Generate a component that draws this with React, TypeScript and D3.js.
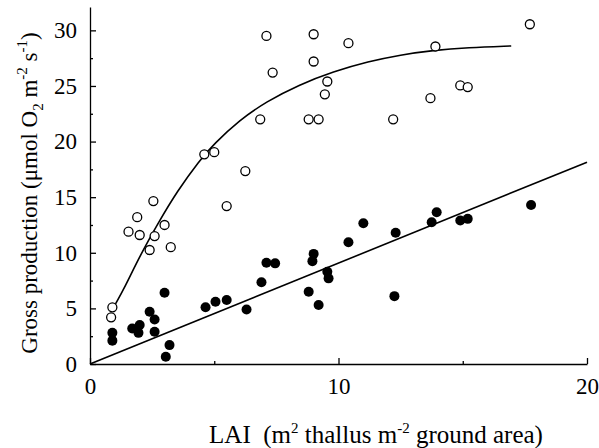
import React, { useEffect, useRef } from "react";
import * as d3 from "d3";

// open circles: gross production per unit ground area
const openX = [0.9, 0.85, 1.55, 2.0, 1.9, 2.55, 2.4, 2.6, 3.0, 3.25, 4.6, 5.0, 5.5, 6.25, 6.85, 7.1, 7.35, 9.0, 9.0, 9.55, 9.45, 8.8, 9.2, 10.4, 12.2, 13.9, 13.7, 14.9, 15.2, 17.7];
const openY = [5.1, 4.2, 11.9, 11.6, 13.2, 14.65, 10.25, 11.5, 12.5, 10.5, 18.85, 19.05, 14.2, 17.35, 22.0, 29.5, 26.2, 29.65, 27.2, 25.4, 24.25, 22.0, 22.0, 28.85, 22.0, 28.55, 23.9, 25.05, 24.9, 30.55];

// filled circles
const fillX = [0.9, 0.9, 1.7, 1.95, 2.0, 2.4, 2.6, 2.6, 3.0, 3.2, 3.05, 4.65, 5.05, 5.5, 6.3, 6.9, 7.1, 7.45, 9.0, 8.95, 8.8, 9.2, 9.55, 9.6, 10.4, 11.0, 12.3, 12.25, 13.75, 13.95, 14.9, 15.2, 17.75];
const fillY = [2.8, 2.1, 3.2, 2.8, 3.5, 4.7, 4.0, 2.9, 6.4, 1.7, 0.65, 5.1, 5.6, 5.75, 4.9, 7.35, 9.1, 9.05, 9.9, 9.25, 6.5, 5.3, 8.3, 7.7, 10.95, 12.65, 11.8, 6.1, 12.75, 13.65, 12.9, 13.05, 14.3];

// saturating fit through the open circles
const fitX = [1.0, 1.4, 2.0, 2.8, 3.5, 4.4, 5.0, 6.0, 7.1, 8.4, 9.8, 11.2, 12.5, 13.8, 15.2, 16.95];
const fitY = [5.3, 6.9, 9.7, 12.9, 15.5, 18.3, 19.8, 21.9, 23.6, 25.1, 26.3, 27.2, 27.8, 28.2, 28.45, 28.6];

// linear fit through the filled circles
const lineX = [0, 20];
const lineY = [0, 18.15];

const xMajor = [0, 10, 20];
const xMinor = [5, 15];
const yMajor = [0, 5, 10, 15, 20, 25, 30];
const yMinor = [2.5, 7.5, 12.5, 17.5, 22.5, 27.5];

const W = 599, H = 448;
const font = "Liberation Serif, Times New Roman, serif";

export default function App() {
  const ref = useRef<SVGSVGElement>(null);

  useEffect(() => {
    const svg = d3.select(ref.current);
    svg.selectAll("g.plot").remove();
    const root = svg.append("g").attr("class", "plot");

    const x = d3.scaleLinear().domain([0, 20]).range([90, 587]);
    const y = d3.scaleLinear().domain([0, 32.1]).range([364, 7]);

    // axes
    root.append("g")
      .attr("transform", `translate(0,${y(0)})`)
      .call(d3.axisBottom(x).tickValues(xMinor).tickSizeInner(-3).tickSizeOuter(0).tickFormat(() => ""))
      .call(g => g.select(".domain").remove());
    root.append("g")
      .attr("transform", `translate(0,${y(0)})`)
      .call(d3.axisBottom(x).tickValues(xMajor).tickSizeInner(-6).tickSizeOuter(0).tickPadding(14).tickFormat(d3.format("d")));
    root.append("g")
      .attr("transform", `translate(${x(0)},0)`)
      .call(d3.axisLeft(y).tickValues(yMinor).tickSizeInner(-3).tickSizeOuter(0).tickFormat(() => ""))
      .call(g => g.select(".domain").remove());
    root.append("g")
      .attr("transform", `translate(${x(0)},0)`)
      .call(d3.axisLeft(y).tickValues(yMajor).tickSizeInner(-6).tickSizeOuter(0).tickPadding(13).tickFormat(d3.format("d")));
    root.selectAll("g").attr("font-family", font).attr("font-size", 23);
    root.selectAll(".domain, .tick line").attr("stroke", "#000").attr("stroke-width", 1.3);
    root.selectAll(".tick text")
      .attr("fill", "#000")
      .attr("font-family", font)
      .style("font-family", font)
      .style("font-size", "23px");

    // fit lines
    const fit = d3.line<number>().x((_, i) => x(fitX[i])).y((d) => y(d)).curve(d3.curveBasis);
    root.append("path").attr("d", fit(fitY)).attr("fill", "none").attr("stroke", "#000").attr("stroke-width", 1.6);
    const lin = d3.line<number>().x((_, i) => x(lineX[i])).y((d) => y(d));
    root.append("path").attr("d", lin(lineY)).attr("fill", "none").attr("stroke", "#000").attr("stroke-width", 1.6);

    // points
    root.append("g").selectAll("circle").data(fillY).join("circle")
      .attr("cx", (_, i) => x(fillX[i])).attr("cy", d => y(d)).attr("r", 5).attr("fill", "#000");
    root.append("g").selectAll("circle").data(openY).join("circle")
      .attr("cx", (_, i) => x(openX[i])).attr("cy", d => y(d)).attr("r", 4.5)
      .attr("fill", "#fff").attr("stroke", "#000").attr("stroke-width", 1.3);
  }, []);

  const sup = { fontSize: 15 };
  return (
    <svg ref={ref} width={W} height={H} style={{ position: "absolute", left: 0, top: 0, background: "#fff" }}
      fontFamily={font}>
      <text x={376} y={443} fontSize={25} textAnchor="middle" fill="#000">
        LAI{"\u00a0\u00a0"}(m<tspan dy={-10} style={sup}>2</tspan><tspan dy={10}> thallus m</tspan>
        <tspan dy={-10} style={sup}>-2</tspan><tspan dy={10}> ground area)</tspan>
      </text>
      <text transform="translate(37,193) rotate(-90)" fontSize={23} textAnchor="middle" fill="#000">
        Gross production (μmol O<tspan dy={6} style={sup}>2</tspan><tspan dy={-6}> m</tspan>
        <tspan dy={-10} style={sup}>-2</tspan><tspan dy={10}> s</tspan>
        <tspan dy={-10} style={sup}>-1</tspan><tspan dy={10}>)</tspan>
      </text>
    </svg>
  );
}
